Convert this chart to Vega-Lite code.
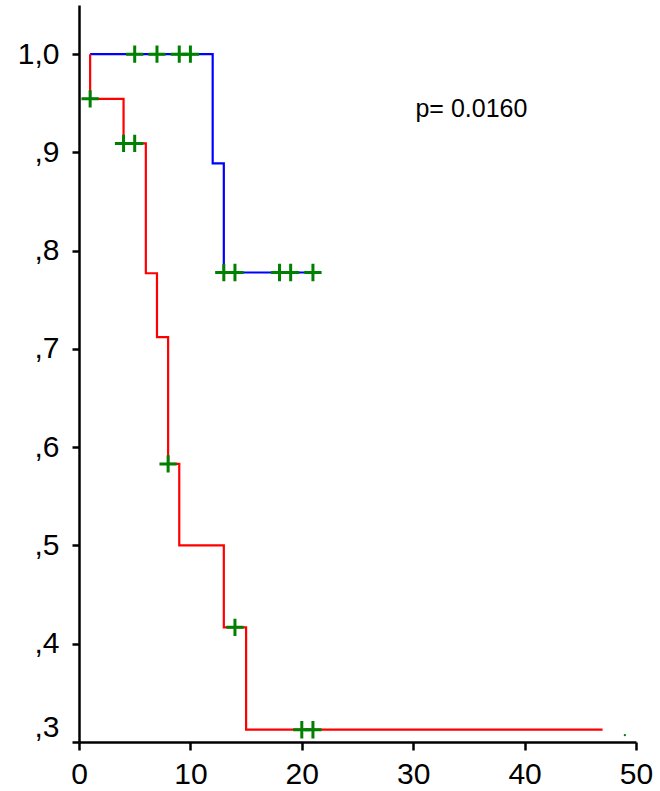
{
  "$schema": "https://vega.github.io/schema/vega-lite/v6.json",
  "width": 557,
  "height": 737,
  "autosize": {"type": "none"},
  "padding": {"left": 79, "top": 5, "right": 24, "bottom": 49},
  "background": "white",
  "config": {
    "view": {"stroke": null},
    "font": "Liberation Sans",
    "axis": {
      "grid": false,
      "title": null,
      "domainColor": "black",
      "domainWidth": 2.5,
      "tickColor": "black",
      "tickWidth": 2.5,
      "labelColor": "black",
      "labelFont": "Liberation Sans",
      "labelFontSize": 30
    }
  },
  "datasets": {
    "curves": [
      {"group": "1", "time": 1, "surv": 1.0},
      {"group": "1", "time": 12, "surv": 0.8889},
      {"group": "1", "time": 13, "surv": 0.7778},
      {"group": "1", "time": 21, "surv": 0.7778},
      {"group": "2", "time": 1, "surv": 1.0},
      {"group": "2", "time": 1, "surv": 0.9545},
      {"group": "2", "time": 4, "surv": 0.9091},
      {"group": "2", "time": 6, "surv": 0.777},
      {"group": "2", "time": 7, "surv": 0.712},
      {"group": "2", "time": 8, "surv": 0.583},
      {"group": "2", "time": 9, "surv": 0.5},
      {"group": "2", "time": 13, "surv": 0.4167},
      {"group": "2", "time": 15, "surv": 0.3125},
      {"group": "2", "time": 47, "surv": 0.3125}
    ],
    "censored": [
      {"group": "1", "time": 5, "surv": 1.0},
      {"group": "1", "time": 7, "surv": 1.0},
      {"group": "1", "time": 9, "surv": 1.0},
      {"group": "1", "time": 10, "surv": 1.0},
      {"group": "1", "time": 13, "surv": 0.7778},
      {"group": "1", "time": 14, "surv": 0.7778},
      {"group": "1", "time": 18, "surv": 0.7778},
      {"group": "1", "time": 19, "surv": 0.7778},
      {"group": "1", "time": 21, "surv": 0.7778},
      {"group": "2", "time": 1, "surv": 0.9545},
      {"group": "2", "time": 4, "surv": 0.9091},
      {"group": "2", "time": 5, "surv": 0.9091},
      {"group": "2", "time": 8, "surv": 0.583},
      {"group": "2", "time": 14, "surv": 0.4167},
      {"group": "2", "time": 20, "surv": 0.3125},
      {"group": "2", "time": 21, "surv": 0.3125}
    ],
    "dot": [{"time": 49, "surv": 0.307}],
    "note": [{"time": 30.2, "surv": 0.944, "label": "p= 0.0160"}]
  },
  "encoding": {
    "x": {
      "field": "time",
      "type": "quantitative",
      "scale": {"domain": [0, 50], "nice": false, "zero": false},
      "axis": {"values": [0, 10, 20, 30, 40, 50], "tickSize": 8, "labelPadding": 9, "labelFlush": false}
    },
    "y": {
      "field": "surv",
      "type": "quantitative",
      "scale": {"domain": [0.3, 1.05], "nice": false, "zero": false},
      "axis": {
        "values": [0.3, 0.4, 0.5, 0.6, 0.7, 0.8, 0.9, 1.0],
        "tickSize": 7,
        "labelPadding": 13,
        "labelFlush": true,
        "labelExpr": "datum.value >= 0.99 ? '1,0' : ',' + round(datum.value * 10)"
      }
    }
  },
  "layer": [
    {
      "data": {"name": "curves"},
      "mark": {"type": "line", "interpolate": "step-after", "strokeWidth": 2.2},
      "encoding": {
        "color": {
          "field": "group",
          "type": "nominal",
          "scale": {"domain": ["1", "2"], "range": ["#0000ff", "#ff0000"]},
          "legend": null
        }
      }
    },
    {
      "data": {"name": "censored"},
      "mark": {
        "type": "point",
        "shape": "M-1,0H1M0,-1V1",
        "filled": false,
        "stroke": "#008000",
        "strokeWidth": 3,
        "size": 300,
        "opacity": 1
      },
      "encoding": {}
    },
    {
      "data": {"name": "dot"},
      "mark": {"type": "square", "color": "#008000", "size": 4, "opacity": 1},
      "encoding": {}
    },
    {
      "data": {"name": "note"},
      "mark": {"type": "text", "align": "left", "baseline": "middle", "fontSize": 25, "font": "Liberation Sans", "color": "black"},
      "encoding": {"text": {"field": "label"}}
    }
  ]
}
